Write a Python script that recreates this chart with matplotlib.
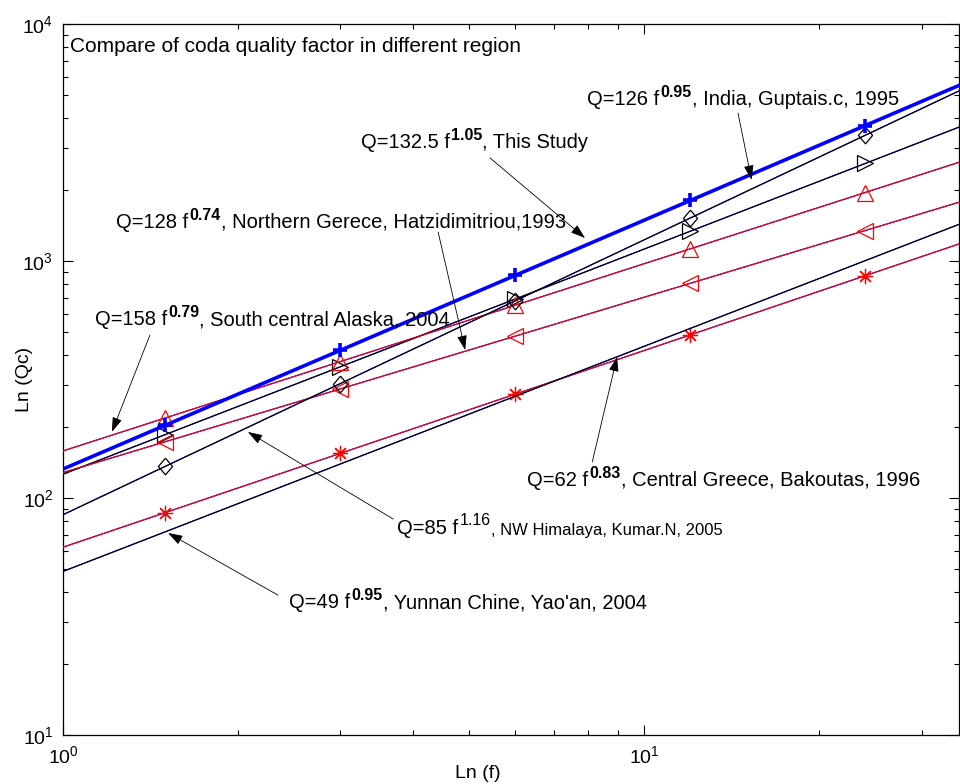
import numpy as np
import matplotlib
matplotlib.use("Agg")
import matplotlib.pyplot as plt

plt.rcParams['font.family'] = 'Liberation Sans'
plt.rcParams['mathtext.fontset'] = 'custom'
plt.rcParams['mathtext.rm'] = 'Liberation Sans'
plt.rcParams['mathtext.bf'] = 'Liberation Sans:bold'
plt.rcParams['mathtext.it'] = 'Liberation Sans:italic'
plt.rcParams['mathtext.default'] = 'regular'

# Qc = Q0 * f^n for each region
regions = ["This Study", "India", "Northern Gerece", "South central Alaska",
           "NW Himalaya", "Central Greece", "Yunnan Chine"]
q0 = [132.5, 126, 128, 158, 85, 62, 49]
n_exp = [1.05, 0.95, 0.74, 0.79, 1.16, 0.83, 0.95]

# frequency range of the lines and centre frequencies carrying markers
f_line = [1, 40]
f_mark = [1.5, 3, 6, 12, 24]

# plotting style per region
colors = ['b', 'k', 'r', 'r', 'k', 'r', 'k']
markers = ['+', '>', '<', '^', 'diamond', 'star', None]

diamond = [(0, 1), (0.85, 0), (0, -1), (-0.85, 0), (0, 1)]

fig = plt.figure(figsize=(9.6, 7.84), dpi=100)
ax = fig.add_axes([63 / 960, 1 - 735 / 784, 896 / 960, 711 / 784])

f_l = np.array(f_line, dtype=float)
f_m = np.array(f_mark, dtype=float)
for i in range(len(regions)):
    q_l = q0[i] * f_l ** n_exp[i]
    q_m = q0[i] * f_m ** n_exp[i]
    if i == 0:
        ax.loglog(f_l, q_l, color='b', lw=2.6, zorder=5)
        ax.loglog(f_m, q_m, ls='none', marker='+', color='b', ms=10, mew=2.6, zorder=6)
        continue
    # the original plot draws every curve twice (blue then coloured)
    ax.loglog(f_l, q_l, color='b', lw=0.9, zorder=3)
    ax.loglog(f_l, q_l, color=colors[i], lw=0.8, zorder=4)
    mk = markers[i]
    if mk is None:
        continue
    if mk == 'diamond':
        ax.loglog(f_m, q_m, ls='none', marker=diamond, ms=12, mfc='none',
                  mec=colors[i], mew=0.9, zorder=4)
    elif mk == 'star':
        ax.loglog(f_m, q_m, ls='none', marker=(8, 2, 0), ms=11, color=colors[i],
                  mew=0.9, zorder=4)
    else:
        ax.loglog(f_m, q_m, ls='none', marker=mk, ms=11, mfc='none',
                  mec=colors[i], mew=0.9, zorder=4)

ax.set_xlim(1, 34.8)
ax.set_ylim(10, 10000)

ax.tick_params(which='both', direction='in', top=True, right=True, labelsize=14)
ax.tick_params(which='major', length=7, width=0.8, pad=7)
ax.tick_params(which='minor', length=3.5, width=0.8)
for s in ax.spines.values():
    s.set_linewidth(0.9)

ax.set_xlabel("Ln (f)", fontsize=14)
ax.set_ylabel("Ln (Qc)", fontsize=14)
ax.xaxis.set_label_coords(0.463, -0.042)
ax.yaxis.set_label_coords(-0.034, 0.5)

ax.text(1.028, 8000, "Compare of coda quality factor in different region",
        fontsize=15, va='center', ha='left')


def label(x, y, pre, sup, post, bold=True, post_size=14.5):
    # MATLAB style "Q=.. f^{..}, ..." built from three pieces
    t1 = ax.text(x, y, pre, fontsize=14.5, va='center', ha='left', zorder=7)
    t2 = ax.annotate(sup, xy=(1, 0), xycoords=t1, xytext=(0.8, 6.5),
                     textcoords='offset points', fontsize=11.5,
                     fontweight='bold' if bold else 'normal',
                     va='bottom', ha='left', zorder=7)
    ax.annotate(post, xy=(1, 0), xycoords=(t2, t1), fontsize=post_size,
                va='bottom', ha='left', zorder=7)


label(7.98, 4780, "Q=126 f", "0.95", ", India, Guptais.c, 1995")
label(3.25, 3150, "Q=132.5 f", "1.05", ", This Study")
label(1.234, 1460, "Q=128 f", "0.74", ", Northern Gerece, Hatzidimitriou,1993")
label(1.135, 564, "Q=158 f", "0.79", ", South central Alaska, 2004")
label(6.29, 119, "Q=62 f", "0.83", ", Central Greece, Bakoutas, 1996")
label(3.76, 74.7, "Q=85 f", "1.16", ", NW Himalaya, Kumar.N, 2005", bold=False, post_size=12)
label(2.45, 36.1, "Q=49 f", "0.95", ", Yunnan Chine, Yao'an, 2004")

# arrows: (tail, head)
arrows = [
    ((14.5, 4210), (15.3, 2200)),
    ((5.43, 2720), (7.91, 1250)),
    ((4.42, 1325), (4.92, 421)),
    ((1.411, 487), (1.214, 190)),
    ((8.14, 142), (8.98, 394)),
    ((3.70, 81.5), (2.08, 190)),
    ((2.344, 38.9), (1.516, 71.2)),
]
for tail, head in arrows:
    ax.annotate("", xy=head, xytext=tail,
                arrowprops=dict(arrowstyle='-|>,head_length=0.9,head_width=0.3',
                                mutation_scale=10, color='k', lw=0.6,
                                shrinkA=0, shrinkB=0), zorder=8)

fig.savefig("out.png", dpi=100)
